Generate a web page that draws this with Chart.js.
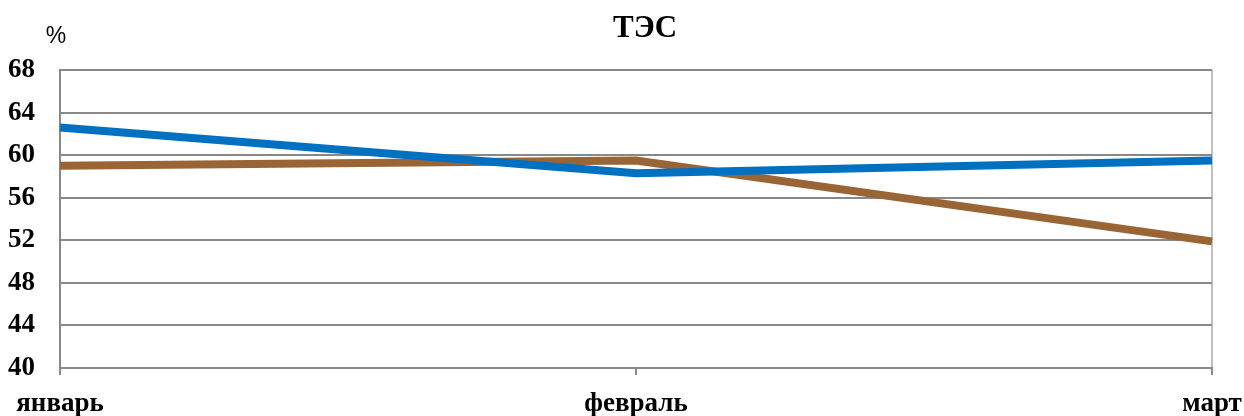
<!DOCTYPE html>
<html>
<head>
<meta charset="utf-8">
<script src="https://cdn.jsdelivr.net/npm/chart.js@4/dist/chart.umd.min.js"></script>
<style>
    html, body { margin: 0; padding: 0; background: #fff; }
    #wrap { width: 1244px; height: 416px; }
</style>
</head>
<body>
<div id="wrap"><canvas id="tesChart"></canvas></div>
<script>
const months = ['январь', 'февраль', 'март'];
const blueValues = [62.6, 58.3, 59.5];
const brownValues = [59.0, 59.5, 51.9];
const yTicks = [40, 44, 48, 52, 56, 60, 64, 68];

Chart.defaults.font.family = '"Liberation Serif", "Times New Roman", serif';
Chart.defaults.color = '#000';

// title and "%" drawn by hand so they can sit where the original has them
const headerPlugin = {
    id: 'header',
    afterDraw(chart) {
        const ctx = chart.ctx;
        ctx.save();
        ctx.fillStyle = '#000';
        ctx.textBaseline = 'middle';
        ctx.textAlign = 'center';
        ctx.font = 'bold 31px "Liberation Serif", serif';
        ctx.fillText('ТЭС', 645, 29);
        ctx.font = '23px "Liberation Sans", Arial, sans-serif';
        ctx.fillText('%', 56, 37);
        ctx.restore();
    }
};

new Chart(document.getElementById('tesChart'), {
    type: 'line',
    data: {
        labels: months,
        datasets: [{
            data: blueValues,
            borderColor: '#0070C0',
            borderWidth: 8,
            pointRadius: 0,
            tension: 0
        }, {
            data: brownValues,
            borderColor: '#9A6535',
            borderWidth: 8,
            pointRadius: 0,
            tension: 0
        }]
    },
    options: {
        responsive: true,
        maintainAspectRatio: false,
        animation: false,
        layout: { padding: { top: 70, left: 0, right: 32, bottom: 0 } },
        plugins: {
            legend: { display: false },
            title: { display: false },
            tooltip: { enabled: false }
        },
        scales: {
            x: {
                offset: false,
                border: { color: '#888', width: 2 },
                grid: {
                    color: ctx => ctx.index === 2 ? '#c0c0c0' : 'rgba(0,0,0,0)',
                    lineWidth: 2,
                    tickColor: '#888',
                    tickLength: 7
                },
                ticks: {
                    font: { size: 27, weight: 'bold' },
                    padding: 13,
                    maxRotation: 0
                },
                afterFit: axis => {
                    axis.paddingLeft = 0;
                    axis.paddingRight = 0;
                    axis.height = 48;
                }
            },
            y: {
                min: 40,
                max: 68,
                afterBuildTicks: axis => { axis.ticks = yTicks.map(v => ({ value: v })); },
                border: { color: '#888', width: 2 },
                grid: { color: '#888', lineWidth: 2, tickLength: 0 },
                ticks: {
                    font: { size: 27, weight: 'bold' },
                    padding: 25
                },
                afterFit: axis => { axis.width = 60; }
            }
        }
    },
    plugins: [headerPlugin]
});
</script>
</body>
</html>
